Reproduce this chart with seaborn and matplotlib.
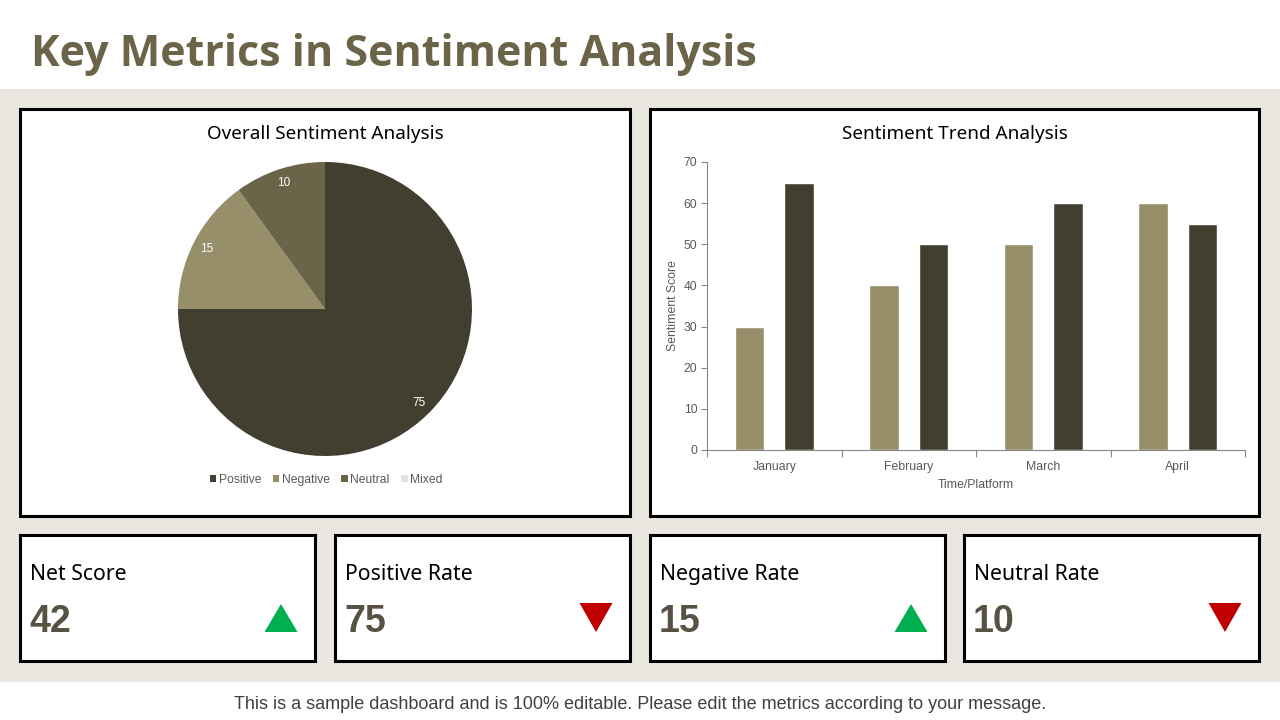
import numpy as np
import pandas as pd
import matplotlib
matplotlib.use("Agg")
import matplotlib.pyplot as plt
from matplotlib.patches import Rectangle, Polygon
import seaborn as sns

# data
pie_labels = ["Positive", "Negative", "Neutral", "Mixed"]
pie_values = [75, 15, 10, 0]
pie_colors = ["#433F30", "#968F69", "#6B6449", "#E4E2DA"]

months = ["January", "February", "March", "April"]
series_light = [30, 40, 50, 60]
series_dark = [65, 50, 60, 55]

kpi_names = ["Net Score", "Positive Rate", "Negative Rate", "Neutral Rate"]
kpi_values = [42, 75, 15, 10]
kpi_up = [True, False, True, False]

W, H = 1280, 720
BG = "#EAE7E1"
TITLE_C = "#6B6449"
NUM_C = "#575243"
TICK_C = "#595959"


def frac(x0, y0, x1, y1):
    return [x0 / W, 1 - y1 / H, (x1 - x0) / W, (y1 - y0) / H]


sns.set_theme(style="white")
plt.rcParams["font.family"] = ["Liberation Sans", "DejaVu Sans"]

fig = plt.figure(figsize=(12.8, 7.2), dpi=100)

# canvas in pixel coords for boxes and texts
bg = fig.add_axes([0, 0, 1, 1], zorder=0)
bg.set_xlim(0, W)
bg.set_ylim(H, 0)
bg.axis("off")
bg.add_patch(Rectangle((0, 89), W, 593, color=BG, lw=0))

bg.text(31, 66, "Key Metrics in Sentiment Analysis", fontsize=31, fontweight="bold",
        color=TITLE_C, va="baseline", ha="left", family=["Open Sans", "DejaVu Sans"])

for x0, x1 in [(20, 630), (650, 1259)]:
    bg.add_patch(Rectangle((x0, 109), x1 - x0, 407, facecolor="white", edgecolor="black", lw=2.2))

bg.text(325, 139, "Overall Sentiment Analysis", fontsize=13.6, ha="center", va="baseline",
        color="black", family=["Noto Sans", "DejaVu Sans"])
bg.text(955, 139, "Sentiment Trend Analysis", fontsize=13.6, ha="center", va="baseline",
        color="black", family=["Noto Sans", "DejaVu Sans"])

# kpi cards
card_x = [20, 335, 650, 964]
for cx, name, val, up in zip(card_x, kpi_names, kpi_values, kpi_up):
    bg.add_patch(Rectangle((cx, 535), 295, 126, facecolor="white", edgecolor="black", lw=2.2))
    bg.text(cx + 10, 580, name, fontsize=15.3, ha="left", va="baseline", color="black",
            family=["Noto Sans", "DejaVu Sans"])
    bg.text(cx + 9, 632, str(val), fontsize=27, fontweight="bold", ha="left", va="baseline",
            color=NUM_C, family=["Liberation Sans Narrow", "Liberation Sans", "DejaVu Sans"])
    tx = cx + 261
    if up:
        tri = [(tx - 16.5, 632), (tx + 16.5, 632), (tx, 604)]
        col = "#00B050"
    else:
        tri = [(tx - 16.5, 603), (tx + 16.5, 603), (tx, 632)]
        col = "#C00000"
    bg.add_patch(Polygon(tri, closed=True, color=col, lw=0))

bg.text(640, 709, "This is a sample dashboard and is 100% editable. Please edit the metrics according to your message.",
        fontsize=13, ha="center", va="baseline", color="#404040")

# pie
r = 147
ax_pie = fig.add_axes(frac(325 - r, 309 - r, 325 + r, 309 + r), zorder=2)
total = sum(pie_values)
wedges, _, autotexts = ax_pie.pie(
    pie_values, colors=pie_colors, startangle=90, counterclock=False,
    autopct=lambda p: f"{p * total / 100:.0f}" if p > 0 else "",
    pctdistance=0.9, wedgeprops=dict(lw=0), textprops=dict(color="white", fontsize=8.5))
ax_pie.set_xlim(-1, 1)
ax_pie.set_ylim(-1, 1)
ax_pie.set_aspect("equal")
fig.legend(wedges, pie_labels, loc="center", bbox_to_anchor=(326 / W, 1 - 480 / H), ncol=4,
           frameon=False, fontsize=8.7, handlelength=0.55, handleheight=0.55, handletextpad=0.2,
           columnspacing=0.95, labelcolor=TICK_C)

# bars
df = pd.DataFrame({
    "Month": months * 2,
    "Series": ["Series 1"] * 4 + ["Series 2"] * 4,
    "Score": series_light + series_dark,
})
ax_bar = fig.add_axes(frac(707, 162, 1245, 450), zorder=2)
sns.barplot(data=df, x="Month", y="Score", hue="Series", palette=["#968F69", "#433F30"],
            width=0.73, gap=0.4, ax=ax_bar, legend=False, saturation=1)
ax_bar.set_facecolor("none")
ax_bar.set_ylim(0, 70)
ax_bar.set_xlim(-0.5, 3.5)
ax_bar.set_yticks(range(0, 71, 10))
ax_bar.set_xticks([-0.5, 0.5, 1.5, 2.5, 3.5])
ax_bar.set_xticklabels([])
ax_bar.set_xticks(range(4), minor=True)
ax_bar.set_xticklabels(months, minor=True)
ax_bar.tick_params(axis="x", which="major", length=5, width=0.8, color="#868686", direction="out", bottom=True)
ax_bar.tick_params(axis="x", which="minor", length=0, labelsize=8.8, labelcolor=TICK_C, pad=8)
ax_bar.tick_params(axis="y", length=4, width=0.8, color="#868686", direction="out", left=True,
                   labelsize=8.8, labelcolor=TICK_C, pad=3)
for s in ["top", "right"]:
    ax_bar.spines[s].set_visible(False)
for s in ["left", "bottom"]:
    ax_bar.spines[s].set_color("#868686")
    ax_bar.spines[s].set_linewidth(0.8)
ax_bar.set_xlabel("Time/Platform", fontsize=8.8, color=TICK_C, labelpad=4)
ax_bar.set_ylabel("Sentiment Score", fontsize=8.8, color=TICK_C, labelpad=3)

fig.savefig("out.png", dpi=100)
